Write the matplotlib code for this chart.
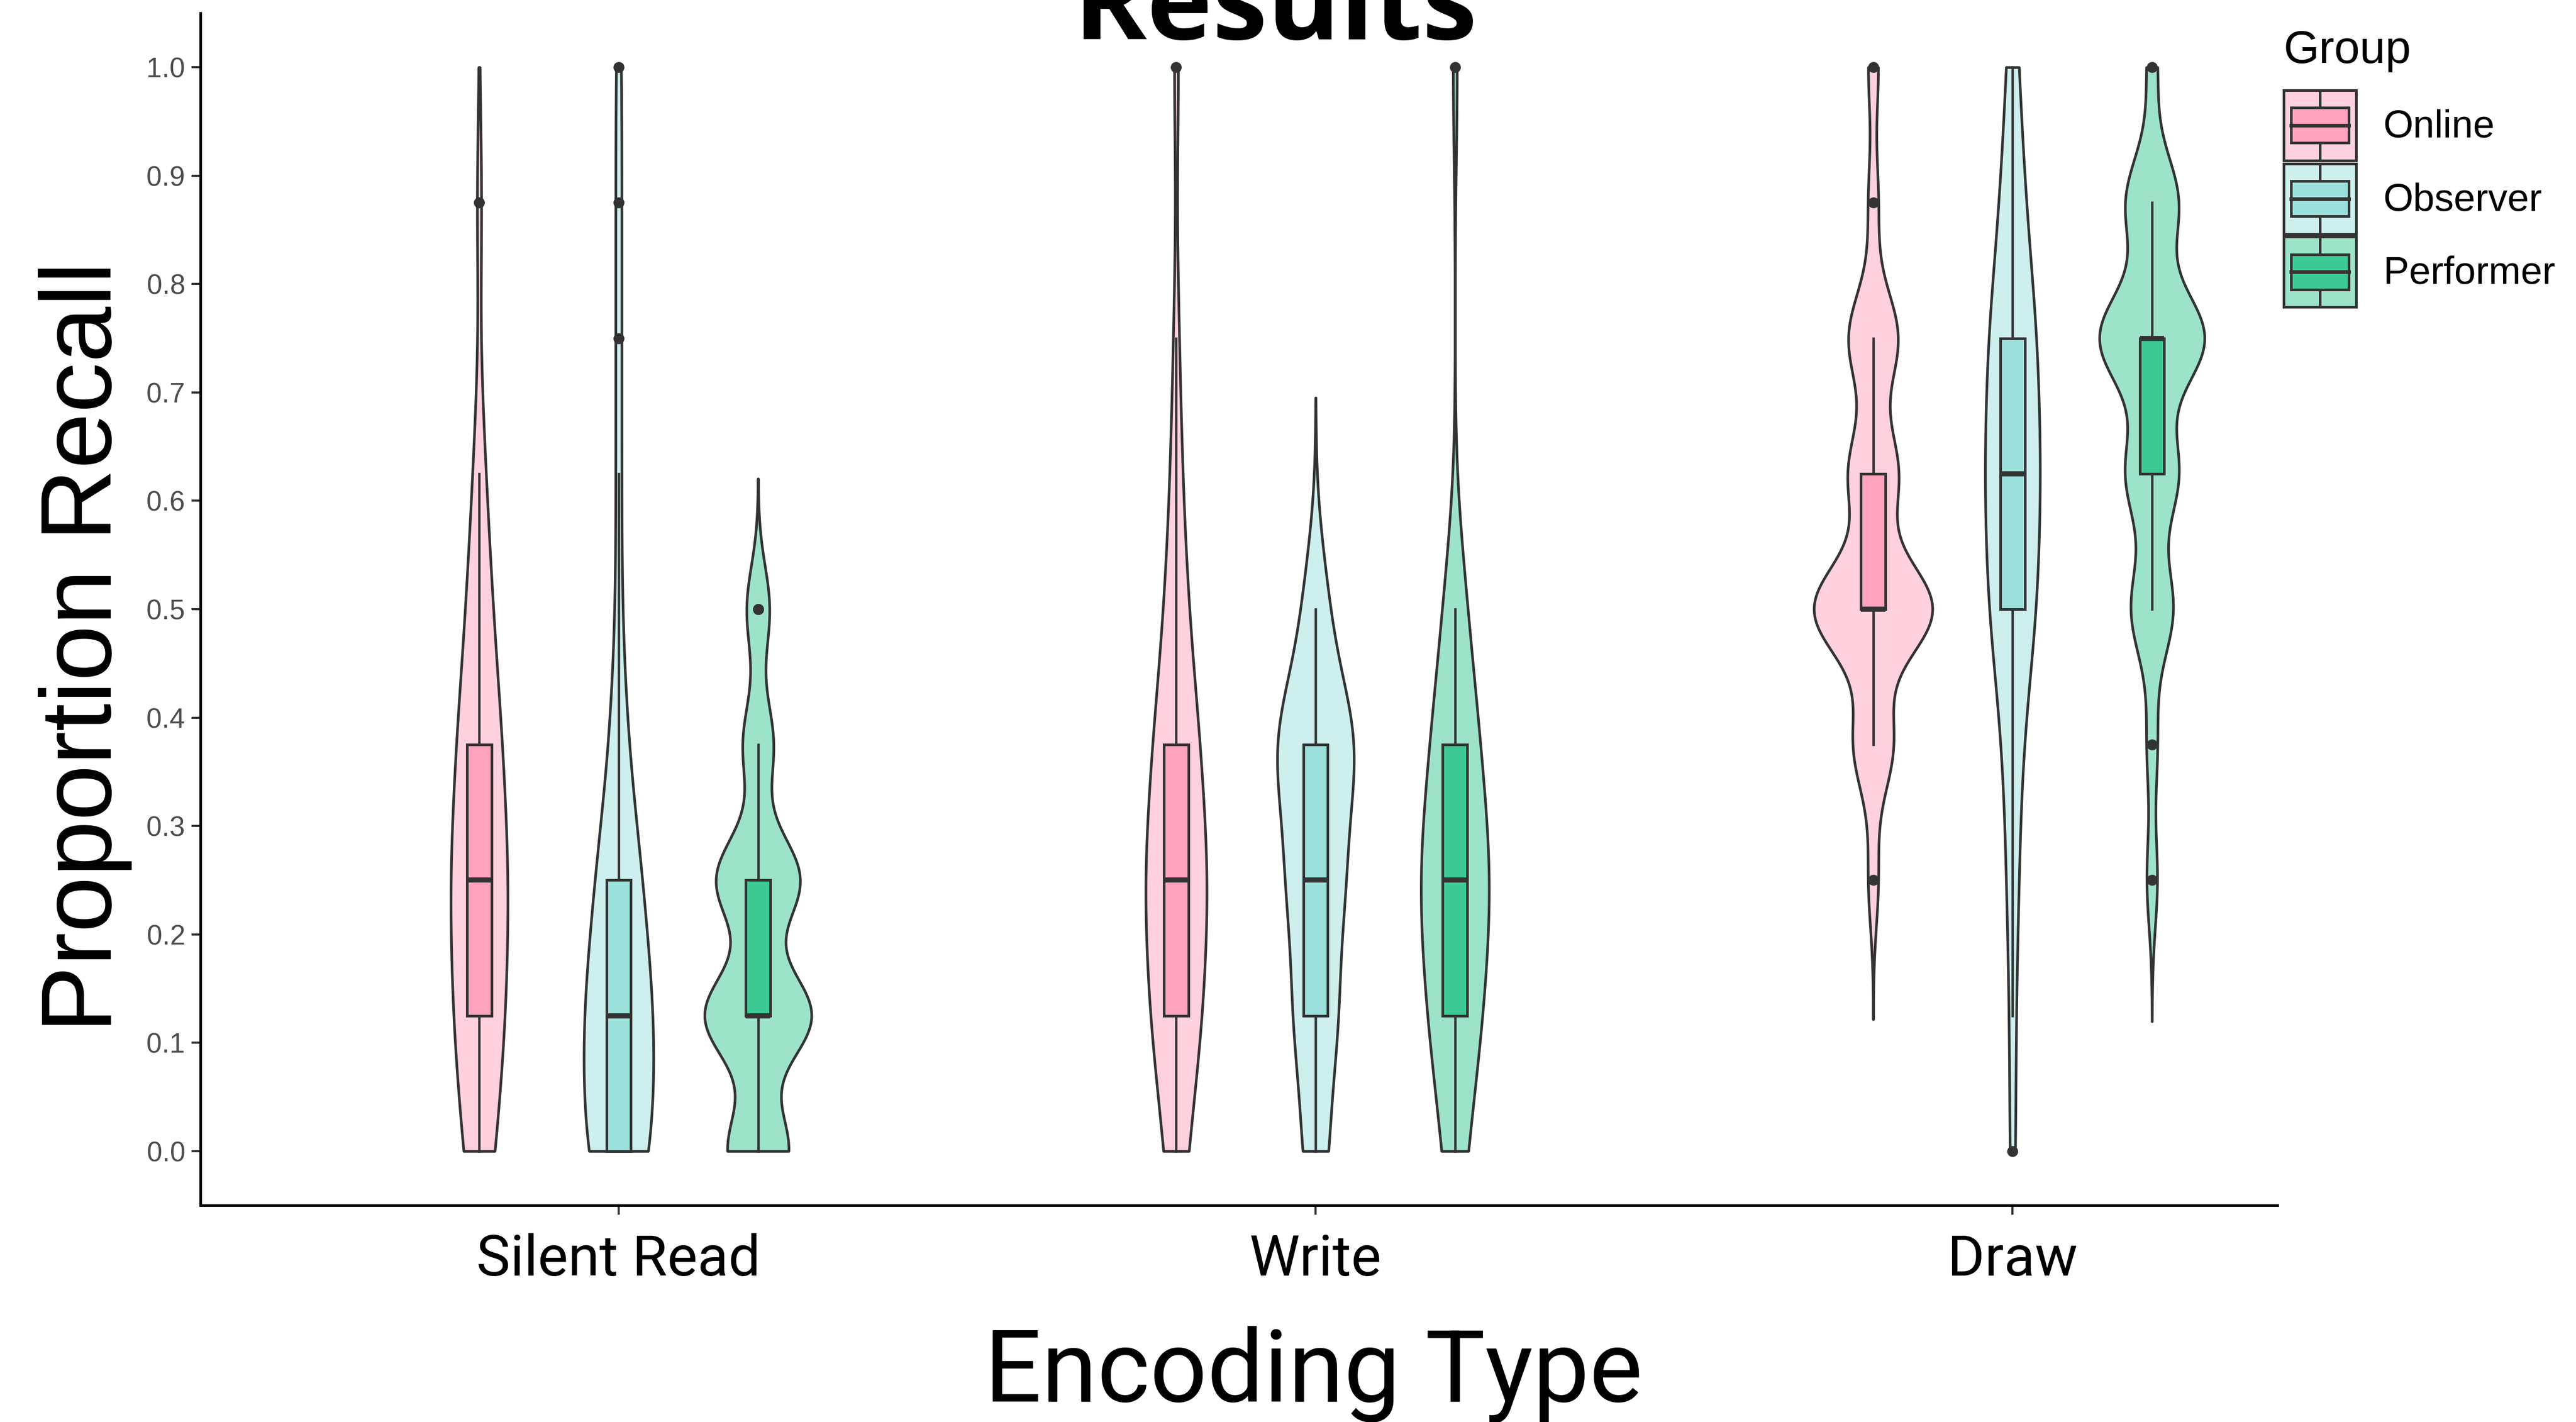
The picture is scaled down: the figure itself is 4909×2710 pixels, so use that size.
import numpy as np
import matplotlib
matplotlib.use("Agg")
import matplotlib.pyplot as plt
import matplotlib.colors as mcolors
from matplotlib.patches import Patch, Rectangle
from matplotlib.lines import Line2D
from matplotlib.legend_handler import HandlerBase

#----------------------------datos------------------------------#
levels    = [0.0, 0.125, 0.25, 0.375, 0.5, 0.625, 0.75, 0.875, 1.0]
encodings = ["Silent Read", "Write", "Draw"]
groups    = ["Online", "Observer", "Performer"]

# participants at each recall level (0/8 ... 8/8)
silent_read_online    = [5, 8, 9, 7, 4, 2, 0, 1, 0]
silent_read_observer  = [12, 12, 8, 3, 1, 1, 1, 1, 1]
silent_read_performer = [8, 14, 11, 4, 3, 0, 0, 0, 0]
write_online          = [4, 9, 11, 8, 4, 2, 1, 0, 1]
write_observer        = [4, 7, 9, 13, 4, 0, 0, 0, 0]
write_performer       = [4, 9, 12, 8, 4, 0, 0, 0, 1]
draw_online           = [0, 0, 1, 4, 12, 5, 5, 1, 1]
draw_observer         = [1, 1, 2, 3, 8, 9, 8, 4, 2]
draw_performer        = [0, 0, 1, 1, 4, 5, 10, 5, 1]

group_colors = ["#FFA3BE", "#9CE0DC", "#3DC994"]

counts = {
    "Silent Read": [silent_read_online, silent_read_observer, silent_read_performer],
    "Write":       [write_online, write_observer, write_performer],
    "Draw":        [draw_online, draw_observer, draw_performer],
}

EDGE = "#333333"
DODGE = 0.2
MAX_WIDTH = 0.17
LW = 3.6


#--------------------densidad_estilo_ggplot---------------------#
def bw_nrd0(x):
    hi = np.std(x, ddof=1)
    q25, q75 = np.percentile(x, [25, 75])
    lo = min(hi, (q75 - q25) / 1.34)
    return 0.9 * lo * len(x) ** -0.2


def density(x, bw):
    # trim=FALSE (3 bw past the data) then censored to the 0-1 limits
    lo = max(x.min() - 3 * bw, 0.0)
    hi = min(x.max() + 3 * bw, 1.0)
    ys = np.linspace(lo, hi, 512)
    d = np.exp(-0.5 * ((ys[:, None] - x[None, :]) / bw) ** 2).sum(axis=1)
    d = d / (len(x) * bw * np.sqrt(2 * np.pi))
    return ys, d


samples, positions, colors, stats = [], [], [], []
for i, enc in enumerate(encodings):
    for j, g in enumerate(groups):
        x = np.repeat(levels, counts[enc][j])
        ys, d = density(x, bw_nrd0(x))
        samples.append(x)
        positions.append(i + 1 + (j - 1) * DODGE)
        colors.append(group_colors[j])
        stats.append({"coords": ys, "vals": d, "mean": x.mean(),
                      "median": np.median(x), "min": ys[0], "max": ys[-1]})

gmax = max(s["vals"].max() for s in stats)


#---------------------leyenda_violin_caja-----------------------#
class ViolinBoxKey(HandlerBase):
    def create_artists(self, legend, orig_handle, xdescent, ydescent,
                       width, height, fontsize, trans):
        c = orig_handle.get_facecolor()
        x0, y0 = -xdescent, -ydescent
        back = Rectangle((x0, y0), width, height, facecolor=(c[0], c[1], c[2], 0.5),
                         edgecolor=EDGE, lw=LW, transform=trans)
        box = Rectangle((x0 + 0.1 * width, y0 + 0.25 * height), 0.8 * width, 0.5 * height,
                        facecolor=c, edgecolor=EDGE, lw=LW, transform=trans)
        med = Line2D([x0 + 0.1 * width, x0 + 0.9 * width], [y0 + 0.5 * height] * 2,
                     color=EDGE, lw=5, transform=trans)
        xm = x0 + width / 2
        w1 = Line2D([xm, xm], [y0, y0 + 0.25 * height], color=EDGE, lw=LW, transform=trans)
        w2 = Line2D([xm, xm], [y0 + 0.75 * height, y0 + height], color=EDGE, lw=LW,
                    transform=trans)
        return [back, box, med, w1, w2]


#---------------------------grafica-----------------------------#
fig = plt.figure(figsize=(49.09, 27.10), dpi=100)
ax = fig.add_axes([382 / 4909, 1 - 2297 / 2710, (4340 - 382) / 4909, (2297 - 25) / 2710])

for s, p, c in zip(stats, positions, colors):
    parts = ax.violin([s], positions=[p], widths=[MAX_WIDTH * s["vals"].max() / gmax],
                      showmeans=False, showextrema=False, showmedians=False)
    for body in parts["bodies"]:
        body.set_alpha(None)
        body.set_facecolor(mcolors.to_rgba(c, 0.5))
        body.set_edgecolor(EDGE)
        body.set_linewidth(LW)
        body.set_zorder(1)

bp = ax.boxplot(samples, positions=positions, widths=0.035, patch_artist=True,
                showcaps=False, whis=1.5, manage_ticks=False, zorder=3,
                boxprops=dict(edgecolor=EDGE, linewidth=LW),
                whiskerprops=dict(color=EDGE, linewidth=3.3),
                medianprops=dict(color=EDGE, linewidth=7, solid_capstyle="butt"),
                flierprops=dict(marker="o", markerfacecolor=EDGE, markeredgecolor=EDGE,
                                markersize=14))
for patch, c in zip(bp["boxes"], colors):
    patch.set_facecolor(c)

ax.set_xlim(0.4, 3.38)
ax.set_ylim(-0.05, 1.05)
for side in ["top", "right"]:
    ax.spines[side].set_visible(False)
for side in ["left", "bottom"]:
    ax.spines[side].set_linewidth(3.6)
    ax.spines[side].set_color("black")

yt = np.round(np.arange(0, 1.01, 0.1), 1)
ax.set_yticks(yt)
ax.set_yticklabels(["%.1f" % v for v in yt], fontfamily="Liberation Sans", fontsize=38,
                   color="#4D4D4D")
ax.tick_params(axis="y", length=12, width=2.9, color=EDGE, pad=9)

ax.set_xticks([1, 2, 3])
ax.set_xticklabels(encodings, fontfamily="Roboto", fontsize=78, color="black")
ax.tick_params(axis="x", length=13, width=2.9, color=EDGE, pad=25)

fig.text(212 / 4909, 1 - 1233 / 2710, "Proportion Recall", rotation=90,
         rotation_mode="anchor", ha="center", va="baseline",
         fontsize=138, fontfamily="Liberation Sans")
fig.text(2503 / 4909, 1 - 2671 / 2710, "Encoding Type", ha="center", va="baseline",
         fontsize=138, fontfamily="Roboto")
fig.text(2430 / 4909, 1 - 75 / 2710, "Results", ha="center", va="baseline",
         fontsize=152, fontweight="bold", fontfamily="Open Sans")

handles = [Patch(facecolor=c) for c in group_colors]
fig.legend(handles, groups, handler_map={Patch: ViolinBoxKey()},
           loc="upper left", bbox_to_anchor=(4352 / 4909, 1 - 172 / 2710),
           frameon=False, prop={"family": "Liberation Sans", "size": 53},
           handlelength=1.875, handleheight=2.42, labelspacing=0.08,
           handletextpad=0.7, borderpad=0, borderaxespad=0)
fig.text(4352 / 4909, 1 - 120 / 2710, "Group", ha="left", va="baseline",
         fontsize=63, fontfamily="Liberation Sans")

fig.savefig("out.png", dpi=100)
